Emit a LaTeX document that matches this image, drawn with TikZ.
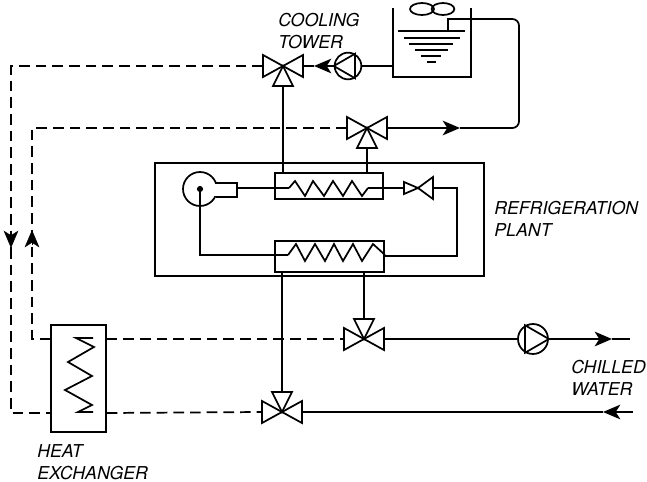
\documentclass[tikz,border=0pt]{standalone}
\usepackage{fontspec}
\setmainfont{TeX Gyre Heros}
\usetikzlibrary{arrows.meta}
\tikzset{
  pipe/.style={line width=1.3pt},
  dashpipe/.style={line width=1.3pt, dash pattern=on 8pt off 4.5pt},
  tip/.style={-{Stealth[length=13pt, width=11pt, inset=3.5pt]}},
  lbl/.style={align=left, anchor=north west, inner sep=0pt, font=\fontsize{13.3}{16.5}\selectfont\itshape},
  hxbox/.style={draw, line width=1.3pt, rectangle, inner sep=0pt},
  pumpc/.style={draw, line width=1.3pt, circle, inner sep=0pt, minimum size=20pt},
  pics/valve/.style={code={
    \coordinate (-l) at (-20,0);
    \coordinate (-r) at (20,0);
    \coordinate (-s) at (0,20);
    \draw[pipe, line join=miter] (0,0) -- (-20,-11) -- (-20,11) -- cycle;
    \draw[pipe, line join=miter] (0,0) -- (20,-11) -- (20,11) -- cycle;
    \draw[pipe, line join=miter] (0,0) -- (-10,20) -- (10,20) -- cycle;
  }}
}
\begin{document}
\begin{tikzpicture}[x=0.75pt, y=-0.75pt]
  \useasboundingbox (0,0) rectangle (647,482);

  % Valves
  \pic (vtower) at (283,66) {valve};
  \pic (vplant) at (367,128) {valve};
  \pic[yscale=-1] (vchill) at (364,339) {valve};
  \pic[yscale=-1] (vback) at (282,412) {valve};

  % Plant frame and the two coils
  \node[hxbox, minimum width=247pt, minimum height=85pt] (plant) at (319.5,219.5) {};
  \node[hxbox, minimum width=81pt, minimum height=19.5pt] (cond) at (329,186) {};
  \node[hxbox, minimum width=82pt, minimum height=23pt] (evap) at (329.5,256.5) {};
  \node[hxbox, minimum width=41pt, minimum height=80pt] (heatx) at (78.5,378.5) {};

  % Coil zigzags
  \coordinate (condin) at (289,188);
  \coordinate (condout) at (368,188);
  \coordinate (evapin) at (288,255);
  \draw[pipe] (condin) -- (295,181) -- (305,196) -- (313,181) -- (324,196) -- (333,181)
    -- (343,196) -- (352,181) -- (362,196) -- (condout);
  \draw[pipe] (evapin) -- (296,244) -- (305,261) -- (315,244) -- (325,261) -- (334,244)
    -- (343,261) -- (353,244) -- (362,261) -- (373,244) -- (evap.east |- evapin);
  \draw[pipe] (76,338) -- (93,338) -- (76,338) -- (94,347) -- (68,362) -- (92,376) -- (65,390)
    -- (92,405) -- (78,412) -- (93,412);

  % Compressor
  \node[pumpc, minimum size=25.5pt] (comp) at (200,189) {};
  \fill[white] (212,184) rectangle (236,196);
  \draw[pipe] (216,183) -- (237,183) -- (237,197) -- (216,197);
  \fill (comp.center) circle (2.3pt);
  \coordinate (compout) at (237,188);
  \draw[pipe] (compout) -- (condin);
  \draw[pipe] (comp.center) |- (evapin);

  % Expansion valve
  \coordinate (xvc) at (418,188);
  \coordinate (xvl) at (404,188);
  \coordinate (xvr) at (433,188);
  \draw[pipe] (xvc) -- (404,182) -- (404,194) -- cycle;
  \draw[pipe] (xvc) -- (433,177) -- (433,199) -- cycle;
  \draw[pipe] (condout) -- (xvl);
  \draw[pipe] (xvr) -- (457,188) -- (457,256) -- (evap.east |- 0,256);

  % Cooling tower
  \coordinate (tankl) at (393,66);
  \draw[pipe] (393,8) -- (393,77) -- (471,77) -- (471,8);
  \draw[pipe] (422,9) ellipse (9pt and 4.5pt);
  \draw[pipe] (443,9) ellipse (8.5pt and 4.5pt);
  \draw[pipe] (398,31) -- (465,31);
  \draw[pipe] (404,38) -- (460,38);
  \draw[pipe] (409,44) -- (453,44);
  \draw[pipe] (415,50) -- (448,50);
  \draw[pipe] (421,56) -- (441,56);
  \draw[pipe] (427,62) -- (436,62);

  % Tower pump
  \node[pumpc] (ptower) at (348,66) {};
  \draw[pipe] (ptower.west) -- (ptower.60) -- (ptower.-60) -- cycle;
  \coordinate (ptip) at (314,66);
  \draw[pipe] (tankl) -- (ptower.east);
  \draw[pipe, tip] (ptower.west) -- (ptip);
  \draw[pipe] (ptip) -- (vtower-r);

  % Condenser water
  \coordinate (ctip) at (460,128);
  \draw[pipe] (448,31) -- (448,19) [rounded corners=5pt] -- (519,19) -- (519,128) -- (ctip);
  \draw[pipe, tip] (vplant-r) -- (ctip);
  \draw[pipe] (vtower-s) -- (vtower-s |- cond.north);
  \draw[pipe] (vplant-s) -- (vplant-s |- cond.north);

  % Chilled water
  \node[pumpc, minimum size=22.5pt] (pchill) at (533,339) {};
  \draw[pipe] (pchill.east) -- (pchill.120) -- (pchill.-120) -- cycle;
  \coordinate (chtip) at (612,339);
  \coordinate (chend) at (630,339);
  \coordinate (rtip) at (603,412);
  \coordinate (rend) at (633,412);
  \draw[pipe] (vchill-r) -- (pchill.west);
  \draw[pipe, tip] (pchill.east) -- (chtip);
  \draw[pipe] (chtip) -- (chend);
  \draw[pipe, tip] (rend) -- (rtip);
  \draw[pipe] (rtip) -- (vback-r);
  \draw[pipe] (vchill-s) -- (vchill-s |- evap.south);
  \draw[pipe] (vback-s) -- (vback-s |- evap.south);

  % Dashed heat exchanger circuit
  \coordinate (atip) at (11,248);
  \coordinate (btip) at (32,230);
  \draw[dashpipe] (vtower-l) -- (11,66) -- (atip);
  \draw[dashpipe] (atip) -- (11,413) -- (heatx.west |- 0,413);
  \draw[tip] (11,232) -- (atip);
  \draw[dashpipe] (vplant-l) -- (32,128) -- (btip);
  \draw[dashpipe] (btip) -- (32,339) -- (heatx.west |- 0,339);
  \draw[tip] (32,245) -- (btip);
  \draw[dashpipe] (heatx.east |- 0,339) -- (vchill-l);
  \draw[dashpipe] (heatx.east |- 0,413) -- (vback-l);

  % Labels
  \node[lbl] (ltower) at (278,13) {COOLING\\TOWER};
  \node[lbl] (lplant) at (494,201) {REFRIGERATION\\PLANT};
  \node[lbl] (lchill) at (571,360) {CHILLED\\WATER};
  \node[lbl] (lheat) at (37,444) {HEAT\\EXCHANGER};
\end{tikzpicture}
\end{document}
